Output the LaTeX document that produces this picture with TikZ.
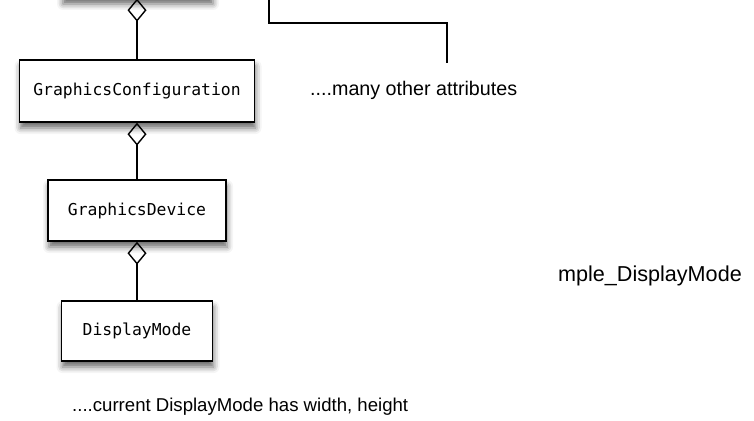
\documentclass[tikz,border=0pt]{standalone}
\usepackage{fontspec}
\setmainfont{Liberation Sans}
\setmonofont{DejaVu Sans Mono}
\usetikzlibrary{positioning,arrows.meta,shadows.blur}

\tikzset{
  classbox/.style={draw, line width=1.4pt, fill=white, inner sep=0pt,
    font=\fontsize{16.4}{18}\selectfont\ttfamily,
    blur shadow={shadow xshift=1pt, shadow yshift=-6pt, shadow blur radius=6pt, shadow opacity=60}},
  noteText/.style={inner sep=0pt, font=\fontsize{#1}{20}\selectfont},
  aggr/.style={line width=1.4pt, -{Diamond[open, length=23pt, width=19pt, line width=1.4pt]}},
  plainline/.style={line width=1.4pt}
}

\begin{document}
\begin{tikzpicture}[x=1pt,y=-1pt]
\useasboundingbox (0,0) rectangle (754,420);
\clip (0,0) rectangle (754,420);

% Class boxes
\node[classbox, minimum width=150pt, minimum height=60pt] (top) at (137,-32) {};
\node[classbox, minimum width=235pt, minimum height=62pt] (gconf) at (137,91) {GraphicsConfiguration};
\node[classbox, minimum width=178pt, minimum height=61pt] (gdev) at (137,210.5) {GraphicsDevice};
\node[classbox, minimum width=151pt, minimum height=60pt] (dmode) at (137,331) {DisplayMode};

% Aggregations
\draw[aggr] (gconf.north -| top.south) -- (top.south);
\draw[aggr] (gdev.north) -- (gdev.north |- gconf.south);
\draw[aggr] (dmode.north) -- (dmode.north |- gdev.south);

% Notes
\node[noteText=19.7, anchor=west] (attrs) at (310,90) {....many other attributes};
\node[noteText=18.6, anchor=west] (current) at (72,407) {....current DisplayMode has width, height};
\node[noteText=21.6, anchor=east] (sample) at (742,276) {mple\_DisplayMode};

% Bracket line
\coordinate (lineStart) at (269,0);
\coordinate (lineEnd) at (447,63);
\draw[plainline] (lineStart) |- (447,23) -- (lineEnd);
\end{tikzpicture}
\end{document}
